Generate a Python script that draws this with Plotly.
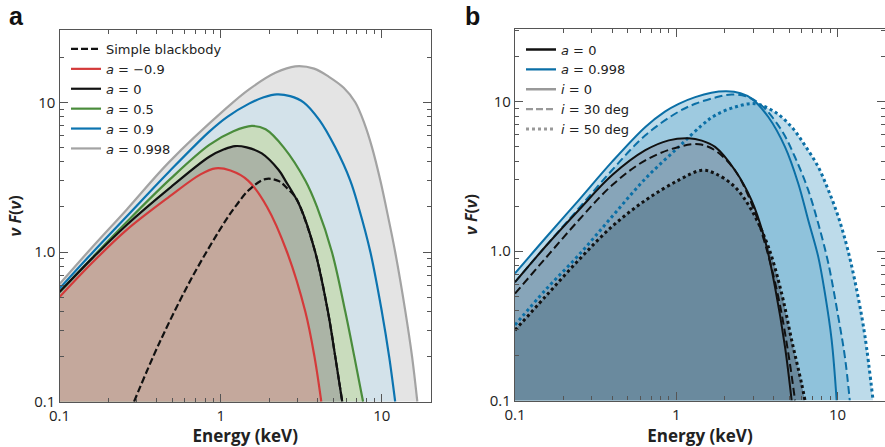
import plotly.graph_objects as go

FONT = "Open Sans"
LFONT = "DejaVu Sans"

# ---------------- Panel a data (Energy keV, nuF(nu)) ----------------
E_a998 = [0.1, 0.16, 0.26, 0.48, 1.08, 1.5, 2.2, 2.9, 3.8, 4.7, 5.8, 6.84, 7.8, 8.69, 9.79, 10.9, 12.1, 14.0, 15.4, 16.6]
F_a998 = [0.61, 1.08, 1.91, 4.0, 9.1, 12.2, 15.8, 17.4, 16.8, 14.8, 12.5, 10.0, 7.2, 5.0, 3.0, 1.75, 1.0, 0.4, 0.2, 0.1]

E_a09 = [0.1, 0.16, 0.26, 0.48, 0.85, 1.1, 1.5, 1.85, 2.23, 2.7, 3.27, 4.1, 5.14, 6.37, 7.17, 8.49, 10.0, 11.1, 12.1]
F_a09 = [0.57, 0.99, 1.72, 3.45, 6.37, 8.0, 9.8, 10.8, 11.3, 11.0, 10.0, 7.6, 5.0, 3.0, 2.0, 1.0, 0.4, 0.2, 0.1]

E_a05 = [0.1, 0.16, 0.26, 0.48, 0.85, 1.2, 1.56, 1.9, 2.46, 3.35, 3.96, 4.9, 5.93, 6.75, 7.65]
F_a05 = [0.54, 0.92, 1.58, 3.03, 5.19, 6.4, 6.95, 6.6, 5.0, 3.0, 2.0, 1.0, 0.4, 0.2, 0.1]

E_a0 = [0.1, 0.16, 0.26, 0.48, 0.85, 1.05, 1.23, 1.45, 1.8, 2.29, 2.52, 3.12, 3.86, 4.63, 5.14, 5.68]
F_a0 = [0.54, 0.91, 1.51, 2.66, 4.33, 4.85, 5.1, 5.0, 4.56, 3.53, 3.0, 2.0, 1.0, 0.4, 0.2, 0.1]

E_am09 = [0.1, 0.16, 0.26, 0.48, 0.75, 0.93, 1.15, 1.48, 1.94, 2.58, 3.35, 3.82, 4.21]
F_am09 = [0.5, 0.85, 1.4, 2.34, 3.3, 3.62, 3.5, 3.0, 2.0, 1.0, 0.4, 0.2, 0.1]

E_bb = [0.29, 0.415, 0.668, 1.08, 1.25, 1.5, 1.89, 2.29, 2.6, 2.9, 3.12, 3.86, 4.63, 5.14, 5.68]
F_bb = [0.1, 0.245, 0.684, 1.64, 2.05, 2.6, 3.07, 2.98, 2.65, 2.34, 2.0, 1.0, 0.4, 0.2, 0.1]

# ---------------- Panel b data ----------------
E_b998_i0 = [0.1, 0.154, 0.248, 0.399, 0.643, 0.85, 1.035, 1.31, 1.65, 2.05, 2.5, 2.93, 3.72, 4.72, 5.71, 6.58, 7.59, 8.35, 9.19, 9.87]
F_b998_i0 = [0.71, 1.22, 2.19, 3.96, 6.79, 8.6, 9.7, 10.75, 11.5, 11.75, 11.4, 10.5, 7.91, 4.99, 2.83, 1.61, 0.916, 0.521, 0.254, 0.1]

E_b998_i30 = [0.1, 0.154, 0.248, 0.399, 0.643, 1.035, 1.31, 1.75, 2.2, 2.7, 3.38, 4.5, 5.44, 6.58, 7.59, 8.77, 10.1, 11.1, 11.9]
F_b998_i30 = [0.62, 1.07, 1.93, 3.48, 5.97, 8.6, 9.7, 10.7, 11.2, 10.9, 9.46, 6.44, 4.27, 2.56, 1.53, 0.826, 0.363, 0.196, 0.1]

E_b998_i50 = [0.1, 0.154, 0.248, 0.399, 0.643, 1.035, 1.44, 1.74, 2.31, 3.07, 4.09, 5.19, 6.28, 7.59, 8.77, 10.1, 11.6, 13.4, 14.8, 16.6]
F_b998_i50 = [0.32, 0.548, 0.94, 1.7, 3.06, 4.99, 6.97, 8.11, 9.22, 9.71, 8.54, 6.78, 5.1, 3.66, 2.56, 1.7, 1.01, 0.494, 0.267, 0.1]

E_b0_i0 = [0.1, 0.154, 0.248, 0.399, 0.643, 0.898, 1.19, 1.44, 1.74, 2.31, 2.93, 3.55, 4.09, 4.72, 5.19]
F_b0_i0 = [0.62, 1.07, 1.88, 3.22, 4.74, 5.52, 5.7, 5.5, 4.99, 3.48, 2.19, 1.18, 0.577, 0.229, 0.1]

E_b0_i30 = [0.1, 0.154, 0.248, 0.399, 0.643, 1.035, 1.38, 1.74, 2.31, 2.93, 3.55, 4.29, 4.95, 5.45]
F_b0_i30 = [0.52, 0.893, 1.61, 2.76, 4.06, 4.99, 5.2, 4.73, 3.48, 2.08, 1.12, 0.494, 0.207, 0.1]

E_b0_i50 = [0.1, 0.154, 0.248, 0.399, 0.643, 1.035, 1.44, 1.74, 2.31, 2.93, 3.72, 4.5, 5.19, 5.98, 6.28]
F_b0_i50 = [0.296, 0.495, 0.871, 1.46, 2.19, 2.99, 3.48, 3.31, 2.69, 1.88, 1.07, 0.521, 0.254, 0.13, 0.1]

# ---------------- Axis ticks ----------------
x_major = [0.1, 1, 10]
x_major_text = ["0.1", "1", "10"]
y_major = [0.1, 1, 10]
y_major_text = ["0.1", "1.0", "10"]
minor_vals = [m * 10 ** d for d in (-1, 0, 1) for m in range(2, 10)]

BASE = 0.1  # axis floor for fills
SMOOTH = 1.0
DASH_A = "7px,3px"
DASH_B = "8px,4px"

fig = go.Figure()


def add_fill(x, y, color, xa, ya):
    fig.add_trace(go.Scatter(x=[x[0], x[-1]], y=[BASE, BASE], mode="lines",
                             line=dict(width=0), showlegend=False, hoverinfo="skip",
                             xaxis=xa, yaxis=ya))
    fig.add_trace(go.Scatter(x=x, y=y, mode="lines", line=dict(width=0, shape="spline", smoothing=SMOOTH),
                             fill="tonexty", fillcolor=color, showlegend=False, hoverinfo="skip",
                             xaxis=xa, yaxis=ya))


def add_line(x, y, color, dash, width, xa, ya, name=None, rank=None, legend="legend"):
    fig.add_trace(go.Scatter(x=x, y=y, mode="lines",
                             line=dict(color=color, dash=dash, width=width, shape="spline", smoothing=SMOOTH),
                             name=name, showlegend=name is not None, legendrank=rank,
                             legend=legend, xaxis=xa, yaxis=ya))


# Panel a fills (back to front)
add_fill(E_a998, F_a998, "#e4e4e4", "x", "y")
add_fill(E_a09, F_a09, "#d3e2ea", "x", "y")
add_fill(E_a05, F_a05, "#c9dcbd", "x", "y")
add_fill(E_a0, F_a0, "#abb4a6", "x", "y")
add_fill(E_am09, F_am09, "#c4a89c", "x", "y")

RED, BLACK, GREEN, BLUE, GRAY = "#d43a3a", "#111111", "#4a8c3c", "#0c74b0", "#a3a3a3"
add_line(E_a998, F_a998, GRAY, "solid", 2.2, "x", "y", "<i>a</i> = 0.998", 6)
add_line(E_a09, F_a09, BLUE, "solid", 2.2, "x", "y", "<i>a</i> = 0.9", 5)
add_line(E_a05, F_a05, GREEN, "solid", 2.2, "x", "y", "<i>a</i> = 0.5", 4)
add_line(E_a0, F_a0, BLACK, "solid", 2.2, "x", "y", "<i>a</i> = 0", 3)
add_line(E_am09, F_am09, RED, "solid", 2.2, "x", "y", "<i>a</i> = −0.9", 2)
add_line(E_bb, F_bb, BLACK, DASH_A, 2.2, "x", "y", "Simple blackbody", 1)

# Panel b fills: translucent blue layers, then black layers
BFILL = "rgba(130,187,215,0.53)"
add_fill(E_b998_i50, F_b998_i50, BFILL, "x2", "y2")
add_fill(E_b998_i30, F_b998_i30, BFILL, "x2", "y2")
add_fill(E_b998_i0, F_b998_i0, BFILL, "x2", "y2")
add_fill(E_b0_i0, F_b0_i0, "#90adc1", "x2", "y2")
add_fill(E_b0_i30, F_b0_i30, "#87a5b9", "x2", "y2")
add_fill(E_b0_i50, F_b0_i50, "#6a8a9e", "x2", "y2")

BBLUE = "#0b6fa6"
add_line(E_b998_i50, F_b998_i50, BBLUE, "dot", 3.0, "x2", "y2")
add_line(E_b998_i30, F_b998_i30, BBLUE, DASH_B, 2.0, "x2", "y2")
add_line(E_b998_i0, F_b998_i0, BBLUE, "solid", 2.0, "x2", "y2")
add_line(E_b0_i50, F_b0_i50, BLACK, "dot", 3.0, "x2", "y2")
add_line(E_b0_i30, F_b0_i30, BLACK, DASH_B, 2.0, "x2", "y2")
add_line(E_b0_i0, F_b0_i0, BLACK, "solid", 2.0, "x2", "y2")

# Panel b legend entries
legend_b = [("<i>a</i> = 0", BLACK, "solid"), ("<i>a</i> = 0.998", BBLUE, "solid"),
            ("<i>i</i> = 0", "#999999", "solid"), ("<i>i</i> = 30 deg", "#999999", DASH_A),
            ("<i>i</i> = 50 deg", "#999999", "dot")]
for k, (nm, col, ds) in enumerate(legend_b):
    fig.add_trace(go.Scatter(x=[None], y=[None], mode="lines", name=nm,
                             line=dict(color=col, dash=ds, width=3 if ds == "dot" else 2.4),
                             legend="legend2", legendrank=k + 1, xaxis="x2", yaxis="y2"))

AX = "#555555"
MINOR = dict(tickvals=minor_vals, ticks="inside", ticklen=4, tickcolor=AX, showgrid=False)


def xaxis(domain, rng, anchor):
    return dict(type="log", domain=domain, range=rng, anchor=anchor, automargin=False,
                tickvals=x_major, ticktext=x_major_text, ticks="inside", ticklen=8,
                tickcolor=AX, tickwidth=1, showline=True, linecolor=AX, linewidth=1.2,
                mirror="ticks", showgrid=False, zeroline=False, minor=MINOR,
                tickfont=dict(family=FONT, size=15, color="#222"),
                title=dict(text="<b>Energy (keV)</b>", font=dict(family=FONT, size=17, color="#222"), standoff=2))


def yaxis(domain, rng, anchor, mirror="ticks"):
    return dict(type="log", domain=domain, range=rng, anchor=anchor, automargin=False,
                tickvals=y_major, ticktext=y_major_text, ticks="inside", ticklen=8,
                tickcolor=AX, tickwidth=1, showline=True, linecolor=AX, linewidth=1.2,
                mirror=mirror, showgrid=False, zeroline=False, minor=MINOR,
                tickfont=dict(family=FONT, size=15, color="#222"),
                title=dict(text="<b><i>ν F</i>(<i>ν</i>)</b>", font=dict(family=FONT, size=16, color="#222"), standoff=8))


YB_DOM = [(447 - 400.5) / 447, (447 - 28.5) / 447]
YB_RNG = [-1, 1.491]

LEG_FONT = dict(family=LFONT, size=13, color="#222")
fig.update_layout(
    width=885, height=447, margin=dict(l=0, r=0, t=0, b=0),
    paper_bgcolor="white", plot_bgcolor="white",
    xaxis=xaxis([59.5 / 885, 431 / 885], [-1, 1.305], "y"),
    yaxis=yaxis([(447 - 401.7) / 447, (447 - 30) / 447], [-1, 1.483], "x"),
    xaxis2=xaxis([515 / 885, 1.0], [-1, 1.294], "y2"),
    yaxis2=yaxis(YB_DOM, YB_RNG, "x2", mirror=False),
    yaxis3=dict(type="log", domain=YB_DOM, range=YB_RNG, overlaying="y2", side="right", anchor="x2",
                automargin=False, showline=False, showgrid=False, zeroline=False,
                tickvals=y_major, ticks="inside", ticklen=8, tickcolor=AX, tickwidth=1,
                showticklabels=False, minor=MINOR),
    legend=dict(x=66 / 885, y=(447 - 34) / 447, xanchor="left", yanchor="top", traceorder="normal",
                bgcolor="rgba(0,0,0,0)", font=LEG_FONT, tracegroupgap=0, itemwidth=30),
    legend2=dict(x=521 / 885, y=(447 - 34.5) / 447, xanchor="left", yanchor="top", traceorder="normal",
                 bgcolor="rgba(0,0,0,0)", font=LEG_FONT, tracegroupgap=0, itemwidth=30),
    annotations=[
        dict(text="<b>a</b>", x=16.5 / 885, y=1.0, xref="paper", yref="paper", xanchor="center",
             yanchor="top", showarrow=False, font=dict(family="Liberation Sans", size=25, color="#111")),
        dict(text="<b>b</b>", x=472 / 885, y=1.0, xref="paper", yref="paper", xanchor="center",
             yanchor="top", showarrow=False, font=dict(family="Liberation Sans", size=25, color="#111")),
    ],
)

# dummy invisible trace so the right-hand tick axis of panel b is drawn
fig.add_trace(go.Scatter(x=[None], y=[None], xaxis="x2", yaxis="y3", showlegend=False, hoverinfo="skip"))

fig.write_html("out.html")
